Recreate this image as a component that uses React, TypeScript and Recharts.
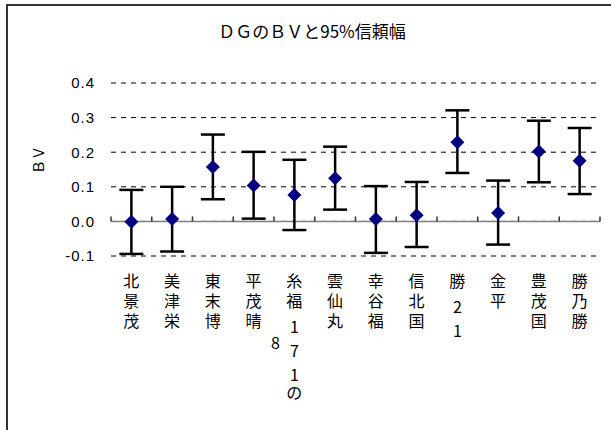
import {
  CartesianGrid,
  ComposedChart,
  ErrorBar,
  Line,
  ReferenceLine,
  XAxis,
  YAxis,
} from 'recharts'

// sire names (vertical labels); the 8 wraps into a second column
const sires = [
  '北景茂',
  '美津栄',
  '東末博',
  '平茂晴',
  '糸福171の8',
  '雲仙丸',
  '幸谷福',
  '信北国',
  '勝21',
  '金平',
  '豊茂国',
  '勝乃勝',
]

// breeding value estimates
const bv = [-0.001, 0.007, 0.157, 0.104, 0.076, 0.125, 0.007, 0.018, 0.229, 0.024, 0.202, 0.175]
// lower / upper 95% limits
const lower = [-0.094, -0.087, 0.064, 0.008, -0.025, 0.034, -0.091, -0.074, 0.14, -0.067, 0.113, 0.079]
const upper = [0.091, 0.1, 0.251, 0.201, 0.178, 0.216, 0.102, 0.114, 0.321, 0.118, 0.291, 0.27]

const yTicks = [-0.1, 0, 0.1, 0.2, 0.3, 0.4]

const CJK = '"Noto Sans CJK JP", "Noto Sans", sans-serif'
const MAX_ROWS = 6

const data = sires.map((name, i) => ({
  name,
  bv: bv[i],
  err: [bv[i] - lower[i], upper[i] - bv[i]],
}))

const isDigit = (c: string) => /[0-9]/.test(c)

// vertical category label, one character per row
function VerticalTick(props: any) {
  const { x, y, payload } = props
  const chars: string[] = Array.from(String(payload.value))
  const main = chars.slice(0, MAX_ROWS)
  const rest = chars.slice(MAX_ROWS)
  // digits take a bit more room than kanji
  let cursor = y + 6
  let prev = y
  const spans = main.map((c, i) => {
    const h = isDigit(c) ? 24 : 20
    const cy = cursor + h / 2 + (isDigit(c) ? 4 : 0)
    cursor += h
    const dy = cy - prev
    prev = cy
    return (
      <tspan key={i} x={x} dy={dy}>
        {c}
      </tspan>
    )
  })
  return (
    <g>
      <text
        x={x}
        y={y}
        textAnchor="middle"
        dominantBaseline="central"
        fontSize={16}
        fill="#000"
        fontFamily={CJK}
      >
        {spans}
      </text>
      {rest.length > 0 && (
        <text
          x={x - 19}
          y={y + 78}
          textAnchor="middle"
          dominantBaseline="central"
          fontSize={16}
          fill="#000"
          fontFamily={CJK}
        >
          {rest.join('')}
        </text>
      )}
    </g>
  )
}

function Diamond(props: any) {
  const { cx, cy } = props
  if (cx == null || cy == null) return null
  const r = 7
  return (
    <polygon
      points={`${cx},${cy - r} ${cx + r},${cy} ${cx},${cy + r} ${cx - r},${cy}`}
      fill="#000080"
      stroke="none"
    />
  )
}

// zero line with category tick marks pointing up
function ZeroAxis(props: any) {
  const { x1, x2, y1 } = props
  const n = sires.length
  const step = (x2 - x1) / n
  const ticks = []
  for (let i = 0; i <= n; i++) {
    const tx = x1 + i * step
    ticks.push(<line key={i} x1={tx} x2={tx} y1={y1 - 5} y2={y1} stroke="#333" strokeWidth={1.5} />)
  }
  return (
    <g>
      <line x1={x1} x2={x2} y1={y1} y2={y1} stroke="#808080" strokeWidth={1.5} />
      {ticks}
    </g>
  )
}

function YLabel() {
  return (
    <text
      x={38}
      y={160}
      transform="rotate(-90 38 160)"
      textAnchor="middle"
      dominantBaseline="central"
      fontSize={14}
      fontFamily={CJK}
      fill="#000"
    >
      ＢＶ
    </text>
  )
}

export default function App() {
  return (
    <div
      style={{
        position: 'fixed',
        left: 0,
        top: 0,
        width: 611,
        height: 430,
        overflow: 'hidden',
        background: '#fff',
      }}
    >
      <div
        style={{
          position: 'absolute',
          left: 6,
          top: 4,
          width: 700,
          height: 500,
          border: '2px solid #333',
        }}
      />
      <div
        style={{
          position: 'absolute',
          left: 0,
          top: 21,
          width: 624,
          textAlign: 'center',
          fontFamily: CJK,
          fontSize: 17,
          lineHeight: '20px',
          color: '#000',
        }}
      >
        ＤＧのＢＶと95%信頼幅
      </div>
      <div style={{ position: 'absolute', left: 0, top: 0 }}>
        <ComposedChart
          width={611}
          height={430}
          data={data}
          margin={{ top: 83, right: 11, bottom: 4, left: 51 }}
        >
          <CartesianGrid vertical={false} stroke="#000" strokeDasharray="5 5" />
          <XAxis
            dataKey="name"
            scale="band"
            interval={0}
            axisLine={false}
            tickLine={false}
            height={170}
            tick={<VerticalTick />}
          />
          <YAxis
            width={60}
            domain={[-0.1, 0.4]}
            ticks={yTicks}
            axisLine={false}
            tickLine={false}
            tickMargin={10}
            tickFormatter={(v: number) => v.toFixed(1)}
            tick={{ fontSize: 15, fill: '#000', fontFamily: '"Liberation Sans", Arial, sans-serif', letterSpacing: 1 }}
            label={<YLabel />}
          />
          <ReferenceLine y={0} shape={<ZeroAxis />} />
          <Line
            dataKey="bv"
            stroke="none"
            dot={<Diamond />}
            activeDot={false}
            isAnimationActive={false}
          >
            <ErrorBar dataKey="err" width={12} stroke="#000" strokeWidth={2.5} direction="y" />
          </Line>
        </ComposedChart>
      </div>
    </div>
  )
}
